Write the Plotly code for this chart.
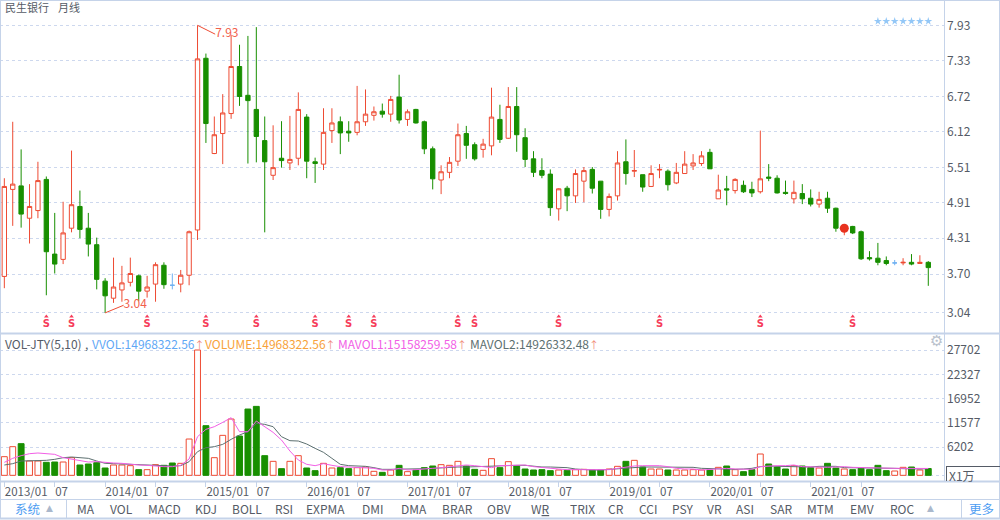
import plotly.graph_objects as go

months = list(range(111))
high = [5.33,6.29,5.82,5.23,5.61,5.36,4.74,4.93,5.80,5.12,4.74,4.32,3.63,3.98,3.84,3.98,3.69,3.67,3.90,3.90,3.71,3.77,4.44,7.93,7.45,6.38,6.76,7.77,7.60,7.75,7.90,6.38,6.23,6.30,6.39,6.79,6.42,5.68,6.52,6.52,
        6.38,6.30,6.90,6.84,6.55,6.60,6.73,7.09,6.50,6.51,6.31,5.87,5.55,5.69,6.26,6.22,5.94,6.00,6.87,6.58,6.88,6.88,6.18,5.79,5.67,5.48,5.16,5.20,5.48,5.52,5.52,5.28,5.07,5.79,5.99,5.81,5.39,5.55,5.57,5.48,
        5.59,5.79,5.74,5.79,5.83,5.39,5.37,5.33,5.29,5.27,6.14,5.57,5.38,5.29,5.29,5.23,5.14,5.10,5.10,4.83,4.55,4.52,4.44,4.09,4.23,4.00,3.94,3.97,4.04,4.02,3.92]
low = [3.46,4.52,4.49,4.22,4.65,3.34,3.71,3.87,4.41,4.31,4.00,3.44,3.04,3.21,3.23,3.49,3.24,3.30,3.23,3.45,3.44,3.39,3.51,4.28,5.93,5.74,5.57,6.34,6.56,5.58,5.60,4.41,5.30,5.51,5.47,5.55,5.33,5.25,5.47,5.93,
       5.74,5.95,6.06,6.22,6.31,6.36,6.29,6.26,6.22,6.26,5.74,5.14,5.06,5.33,5.54,5.66,5.63,5.68,5.72,5.93,6.00,5.78,5.52,5.35,5.33,4.69,4.61,4.77,4.91,4.92,5.07,4.64,4.68,4.95,5.22,5.35,5.10,5.18,5.33,5.12,
       5.23,5.41,5.47,5.54,5.49,4.98,4.87,5.07,5.08,5.01,5.07,5.28,5.07,5.05,4.90,4.89,4.85,4.83,4.74,4.42,4.36,4.38,3.94,3.93,3.85,3.85,3.85,3.85,3.85,3.88,3.50]
open_ = [3.66,5.14,5.20,4.65,4.78,5.31,4.04,3.95,4.48,4.85,4.48,4.20,3.58,3.29,3.43,3.56,3.67,3.41,3.53,3.85,3.51,3.53,3.68,4.45,7.37,5.75,6.09,6.43,7.23,6.74,6.50,5.97,5.38,5.67,5.59,5.67,6.37,5.61,5.57,6.14,
         6.29,6.13,6.11,6.29,6.40,6.47,6.42,6.71,6.33,6.50,6.29,5.83,5.30,5.43,5.62,6.09,5.90,5.82,5.88,6.33,6.01,6.55,6.02,5.66,5.46,5.40,4.81,5.16,5.03,5.28,5.48,5.28,4.80,5.03,5.61,5.45,5.39,5.19,5.47,5.45,
         5.25,5.41,5.54,5.58,5.77,4.98,5.15,5.12,5.21,5.14,5.10,5.35,5.33,5.09,4.98,5.07,4.99,4.89,4.99,4.82,4.46,4.51,4.42,3.98,3.97,3.93,3.89,3.89,3.90,3.88,3.90]
close = [5.19,5.23,4.72,4.85,5.29,4.08,3.87,4.40,4.88,4.46,4.21,3.61,3.33,3.48,3.55,3.71,3.41,3.48,3.86,3.52,3.51,3.68,4.42,7.36,6.26,6.07,6.44,7.23,6.72,6.65,6.04,5.61,5.51,5.63,5.65,6.50,5.62,5.58,6.11,6.27,
         6.10,6.10,6.29,6.42,6.46,6.42,6.67,6.32,6.46,6.27,5.83,5.32,5.44,5.60,6.07,5.89,5.66,5.91,6.37,5.99,6.55,6.07,5.65,5.43,5.38,4.83,5.15,5.03,5.41,5.46,5.16,4.80,5.02,5.59,5.41,5.46,5.18,5.41,5.48,5.22,
         5.43,5.57,5.59,5.71,5.49,5.13,5.13,5.31,5.10,5.08,5.32,5.33,5.08,5.07,5.09,4.98,4.89,4.97,4.82,4.48,4.50,4.40,3.96,3.96,3.90,3.88,3.89,3.90,3.87,3.90,3.81]
volume = [4123,6332,6995,3166,3166,2872,2945,2945,3902,2283,2503,2798,1620,2283,2283,2135,1252,1252,2356,2209,2724,2651,8026,27702,10971,3902,8836,12443,8688,14652,15241,4344,3092,1473,3092,4344,1620,1031,2651,1620,
          1693,1473,1693,1841,884,663,1178,2209,810,1178,1693,2062,2356,2209,3092,2062,1325,1104,3682,1693,3019,2135,1399,1178,1252,1031,1178,1104,1252,1325,1178,1178,1399,1988,3092,3313,1841,1399,1399,1178,
          1178,1178,1252,1178,1178,1767,2062,1252,810,1252,4712,2503,1841,1399,2135,2062,1693,1620,2651,1620,1399,1252,1546,1252,2209,1031,957,1767,1841,1178,1497]
mavol1 = [2872,3755,4344,4786,4933,4860,4639,3902,3608,3166,2945,3019,2798,2724,2651,2430,2283,2209,1988,1914,1914,2209,3608,8541,10161,10750,11707,12738,9646,9646,12002,10824,9498,7805,5375,3387,2430,2135,2577,2209,
          1914,1841,1693,1693,1546,1178,1178,1546,1178,1252,1325,1546,1693,1914,2135,2283,2135,1914,1693,2135,2135,2135,2283,1914,1693,1546,1399,1252,1252,1178,1178,1178,1252,1546,1841,2062,2135,2135,2135,1914,
          1546,1399,1399,1178,1325,1546,1546,1399,1325,1325,1914,2062,2135,2135,2283,1914,1841,1767,1767,1841,1914,1767,1693,1620,1620,1546,1546,1546,1546,1473,1516]
mavol2 = [2283,2577,3166,3166,3240,3313,3534,3902,4050,3976,3755,3166,2651,2577,2503,2430,2356,2135,2135,2062,2062,2135,3019,5228,6111,6332,6848,7952,8909,9646,11486,11265,10750,8541,7658,7584,6921,5964,5080,3755,
          2430,2135,2062,1988,1693,1325,1325,1325,1325,1325,1473,1546,1693,1767,1841,1841,1914,2062,2135,2135,2209,2209,2209,1988,1841,1841,1767,1693,1399,1252,1178,1178,1325,1546,1693,1841,1841,1841,1841,1767,
          1767,1767,1767,1546,1473,1399,1399,1325,1399,1546,1914,2062,1988,1914,1914,1767,1841,1988,1988,1988,1693,1693,1693,1620,1546,1546,1546,1473,1399,1399,1493]

price_ticks = [7.93,7.33,6.72,6.12,5.51,4.91,4.31,3.70,3.04]
volume_ticks = [27702,22327,16952,11577,6202,0]
volume_tick_text = ["27702","22327","16952","11577","6202",""]
time_tick_index = [0,6,12,18,24,30,36,42,48,54,60,66,72,78,84,90,96,102]
time_tick_text = ["2013/01","07","2014/01","07","2015/01","07","2016/01","07","2017/01","07","2018/01","07","2019/01","07","2020/01","07","2021/01","07"]
signal_months = [5,8,17,24,30,37,41,44,54,56,66,78,90,101]
star_months = [104,105,106,107,108,109,110]
dot_month = [100]
dot_price = [4.48]
flat_up_volume_months = [106]

RED = "#ee4b33"
GREEN = "#188f00"
BLUE = "#6fb1f2"
GRID = "#cdd8ee"
FRAME = "#c5d3e9"
TEXT = "#555b66"
FONT = "Noto Sans CJK SC"

fig = go.Figure()

solid = [i for i in months if open_[i] != close[i]]
flat = [i for i in months if open_[i] == close[i]]
pick = lambda a, idx: [a[i] for i in idx]

fig.add_trace(go.Candlestick(
    x=solid, open=pick(open_, solid), high=pick(high, solid), low=pick(low, solid), close=pick(close, solid),
    increasing=dict(line=dict(color=RED, width=1), fillcolor="white"),
    decreasing=dict(line=dict(color=GREEN, width=1), fillcolor=GREEN),
    whiskerwidth=0, xaxis="x", yaxis="y", hoverinfo="skip"))
fig.add_trace(go.Candlestick(
    x=flat, open=pick(open_, flat), high=pick(high, flat), low=pick(low, flat), close=pick(close, flat),
    increasing=dict(line=dict(color=BLUE, width=1), fillcolor="white"),
    decreasing=dict(line=dict(color=BLUE, width=1), fillcolor="white"),
    whiskerwidth=0, xaxis="x", yaxis="y", hoverinfo="skip"))

# high / low callouts
low_i = low.index(min(low))
high_i = high.index(max(high))
fig.add_trace(go.Scatter(x=[high_i, high_i + 2.1], y=[max(high), max(high) - 0.15], mode="lines+text",
                         line=dict(color=RED, width=1), text=["", "7.93"], textposition="middle right",
                         textfont=dict(color="#f2604c", size=12, family=FONT), xaxis="x", yaxis="y"))
fig.add_trace(go.Scatter(x=[low_i, low_i + 2.2], y=[min(low), min(low) + 0.13], mode="lines+text",
                         line=dict(color=RED, width=1), text=["", "3.04"], textposition="middle right",
                         textfont=dict(color="#f2604c", size=12, family=FONT), xaxis="x", yaxis="y"))
fig.add_trace(go.Scatter(x=dot_month, y=dot_price, mode="markers",
                         marker=dict(color="#e8321f", size=9), xaxis="x", yaxis="y"))
fig.add_trace(go.Scatter(x=star_months, y=[8.0] * len(star_months), mode="markers",
                         marker=dict(symbol="star", color="#93c7f7", size=6), xaxis="x", yaxis="y"))
fig.add_trace(go.Scatter(x=signal_months, y=[2.98] * len(signal_months), mode="markers+text",
                         marker=dict(symbol="triangle-up", color="#f63c5a", size=4),
                         text=["<b>S</b>"] * len(signal_months), textposition="bottom center",
                         textfont=dict(color="#f63c5a", size=10, family="DejaVu Sans"), xaxis="x", yaxis="y"))

up_vol = [close[i] > open_[i] or i in flat_up_volume_months for i in months]
fig.add_trace(go.Bar(x=months, y=volume, width=0.7,
                     marker=dict(color=["white" if u else GREEN for u in up_vol],
                                 line=dict(color=[RED if u else GREEN for u in up_vol], width=1)),
                     xaxis="x2", yaxis="y2", hoverinfo="skip"))
fig.add_trace(go.Scatter(x=months, y=mavol2, mode="lines", line=dict(color="#5d7070", width=1), xaxis="x2", yaxis="y2"))
fig.add_trace(go.Scatter(x=months, y=mavol1, mode="lines", line=dict(color="#f25fe6", width=1), xaxis="x2", yaxis="y2"))


def px_x(p):
    return p / 1000


def px_y(p):
    return 1 - p / 520


def label(x, y, text, color=TEXT, size=12, anchor="left", family=FONT):
    return dict(x=px_x(x), y=px_y(y), xref="paper", yref="paper", text=text, showarrow=False,
                xanchor=anchor, yanchor="middle", font=dict(color=color, size=size, family=family))


arrow = "<span style='color:#f08a78;font-size:10px'>↑</span>"
annotations = [
    label(3, 7, "民生银行", size=11), label(56, 7, "月线", size=11),
    label(3, 343, "VOL-JTY(5,10)"), label(83, 343, ","),
    label(90, 343, "VVOL:14968322.56" + arrow, color="#5fa8f5"),
    label(203, 343, "VOLUME:14968322.56" + arrow, color="#f7a23a"),
    label(336, 343, "MAVOL1:15158259.58" + arrow, color="#f25fe6"),
    label(468, 343, "MAVOL2:14926332.48" + arrow, color="#5d7070"),
    label(947, 475, "X1万", size=12),
    label(936, 341, "⚙", color="#b9c1cc", size=15, anchor="center", family="DejaVu Sans"),
    label(27, 508, "系统", color="#4d9df2", size=12.5, anchor="center"),
    label(49, 508, "▲", color="#aab8cc", size=9, anchor="center", family="DejaVu Sans"),
    label(930, 508, "▲", color="#aab8cc", size=9, anchor="center", family="DejaVu Sans"),
    label(981, 508, "更多", color="#4d9df2", size=12.5, anchor="center"),
]
toolbar = [("MA", 86), ("VOL", 121), ("MACD", 164), ("KDJ", 206), ("BOLL", 247), ("RSI", 284), ("EXPMA", 325),
           ("DMI", 372.7), ("DMA", 413.7), ("BRAR", 457), ("OBV", 498.7), ("W<u>R</u>", 540.7), ("TRIX", 582),
           ("CR", 616), ("CCI", 647.7), ("PSY", 682.3), ("VR", 714), ("ASI", 745), ("SAR", 781), ("MTM", 820),
           ("EMV", 862), ("ROC", 902)]
annotations += [label(x, 508, t, anchor="center") for t, x in toolbar]


def hline(y, x0=0, x1=1000, color=FRAME, width=1):
    return dict(type="line", xref="paper", yref="paper", x0=x0 / 1000, x1=x1 / 1000,
                y0=px_y(y), y1=px_y(y), line=dict(color=color, width=width), layer="above")


def vline(x, y0, y1, color=FRAME, width=1):
    return dict(type="line", xref="paper", yref="paper", x0=x / 1000, x1=x / 1000,
                y0=px_y(y0), y1=px_y(y1), line=dict(color=color, width=width), layer="above")


shapes = [
    hline(0.5), hline(333.5, width=2), hline(481.5, width=2), hline(499.5), hline(518.5, width=2),
    vline(0.5, 0, 519), vline(999.5, 0, 519), vline(944.5, 0, 482), vline(66.5, 499, 519), vline(961.5, 499, 519),
    hline(466.5, x0=946, color="#555b66"), vline(946.5, 466, 481, color="#555b66"),
]

axis_font = dict(color=TEXT, size=12, family=FONT)
time_font = dict(color=TEXT, size=11.5, family=FONT)
fig.update_layout(
    width=1000, height=520, autosize=False, margin=dict(l=0, r=0, t=0, b=0),
    paper_bgcolor="white", plot_bgcolor="white", showlegend=False,
    boxmode="overlay", boxgap=0.26, bargap=0.3, font=dict(family=FONT),
    xaxis=dict(domain=[0, 0.944], range=[-0.515, 111.87], anchor="y", showgrid=False, showticklabels=False,
               rangeslider=dict(visible=False), zeroline=False, ticks="", fixedrange=True),
    yaxis=dict(domain=[1 - 333 / 520, 1 - 1 / 520], range=[2.698, 8.344], anchor="x", side="right",
               tickmode="array", tickvals=price_ticks, ticktext=[f"{v:.2f}" for v in price_ticks],
               showgrid=True, gridcolor=GRID, griddash="3px,3px", gridwidth=1, zeroline=False, ticks="",
               tickfont=axis_font, ticklabelstandoff=2, fixedrange=True),
    xaxis2=dict(domain=[0, 0.944], range=[-0.515, 111.87], anchor="y2", showgrid=False, zeroline=False,
                tickmode="array", tickvals=time_tick_index, ticktext=time_tick_text, tickangle=0,
                ticks="outside", ticklen=5, tickcolor=FRAME, ticklabelposition="outside right",
                tickfont=time_font, fixedrange=True),
    yaxis2=dict(domain=[1 - 481 / 520, 1 - 335 / 520], range=[-1253, 31017], anchor="x2", side="right",
                tickmode="array", tickvals=volume_ticks, ticktext=volume_tick_text,
                showgrid=True, gridcolor=GRID, griddash="3px,3px", gridwidth=1, zeroline=False, ticks="",
                tickfont=axis_font, ticklabelstandoff=2, fixedrange=True),
    annotations=annotations, shapes=shapes,
)

fig.write_html("out.html", config=dict(displayModeBar=False), post_script="document.body.style.margin='0';")
